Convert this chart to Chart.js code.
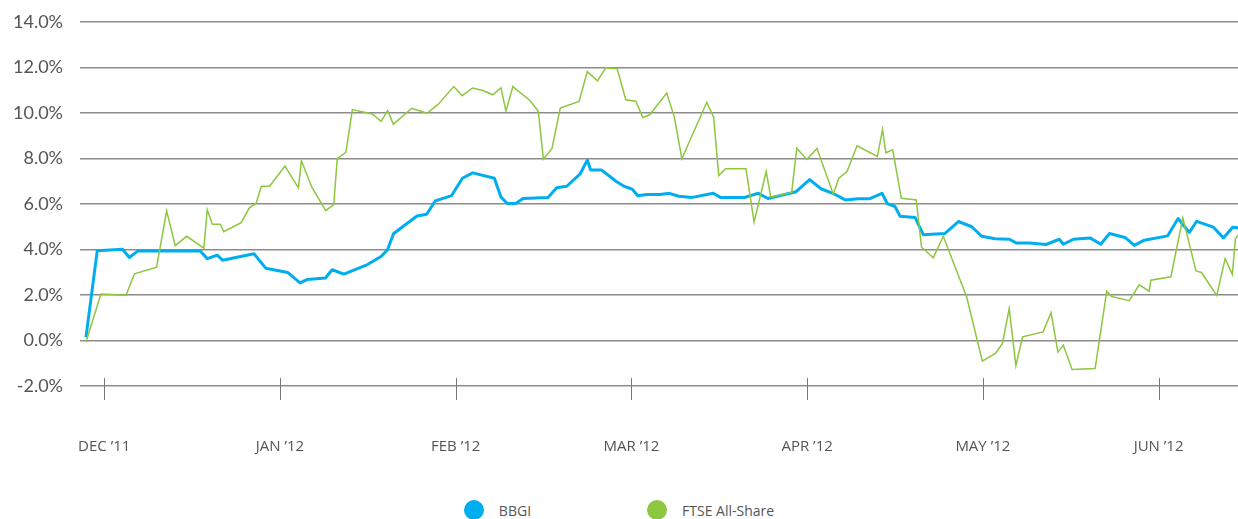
<!DOCTYPE html>
<html lang="en">
<head>
    <meta charset="UTF-8">
    <script src="https://cdn.jsdelivr.net/npm/chart.js@4.4.0/dist/chart.umd.min.js"></script>
    <title>BBGI vs FTSE All-Share</title>
    <style>
        html, body { margin: 0; padding: 0; background: #fff; overflow: hidden; }
        #wrap { width: 1238px; height: 490px; position: relative; }
        #legend { display: flex; justify-content: center; align-items: center; height: 40px;
                  font-family: "Open Sans", sans-serif; font-size: 14px; color: #555; margin-left: 0; }
        .item { display: flex; align-items: center; margin: 0 58px; }
        .dot { width: 20px; height: 20px; border-radius: 50%; margin-right: 15px; }
    </style>
</head>
<body>
<div id="wrap"><canvas id="perf"></canvas></div>
<div id="legend"></div>

<script>
// x positions are in months from 1 Dec 2011 (0 = DEC '11, 1 = JAN '12, ...)
const monthLabels = ["DEC \u201911", "JAN \u201912", "FEB \u201912", "MAR \u201912", "APR \u201912", "MAY \u201912", "JUN \u201912"];

const bbgiX = [-0.104, -0.040, 0.104, 0.143, 0.190, 0.546, 0.586, 0.643, 0.673, 0.852,
    0.919, 1.044, 1.114, 1.154, 1.259, 1.297, 1.364, 1.498, 1.575, 1.612,
    1.646, 1.713, 1.780, 1.835, 1.884, 1.977, 2.038, 2.097, 2.220, 2.258,
    2.294, 2.342, 2.383, 2.525, 2.575, 2.632, 2.707, 2.749, 2.768, 2.831,
    2.916, 2.958, 3.005, 3.036, 3.087, 3.163, 3.216, 3.269, 3.347, 3.466,
    3.506, 3.645, 3.722, 3.777, 3.937, 4.014, 4.079, 4.149, 4.217, 4.291,
    4.354, 4.426, 4.456, 4.500, 4.529, 4.614, 4.661, 4.783, 4.861, 4.937,
    4.994, 5.069, 5.151, 5.189, 5.265, 5.360, 5.435, 5.458, 5.515, 5.610,
    5.671, 5.720, 5.809, 5.862, 5.919, 6.052, 6.111, 6.175, 6.217, 6.312,
    6.369, 6.422, 6.452];
const bbgiY = [0.15, 3.94, 4.01, 3.65, 3.93, 3.93, 3.60, 3.75, 3.53, 3.81,
    3.18, 2.99, 2.53, 2.68, 2.75, 3.11, 2.92, 3.34, 3.69, 3.99,
    4.69, 5.09, 5.47, 5.55, 6.14, 6.37, 7.13, 7.37, 7.13, 6.30,
    6.02, 6.02, 6.24, 6.29, 6.71, 6.78, 7.31, 7.93, 7.49, 7.49,
    6.98, 6.78, 6.65, 6.36, 6.42, 6.42, 6.47, 6.34, 6.29, 6.47,
    6.29, 6.29, 6.47, 6.24, 6.54, 7.07, 6.67, 6.46, 6.18, 6.23,
    6.23, 6.47, 6.02, 5.89, 5.46, 5.41, 4.65, 4.70, 5.23, 5.00,
    4.58, 4.47, 4.45, 4.29, 4.29, 4.22, 4.45, 4.23, 4.45, 4.51,
    4.23, 4.70, 4.53, 4.18, 4.41, 4.60, 5.36, 4.75, 5.24, 4.98,
    4.51, 4.98, 4.95];

const ftseX = [-0.104, -0.019, 0.124, 0.172, 0.298, 0.355, 0.404, 0.469, 0.567, 0.586,
    0.615, 0.661, 0.680, 0.779, 0.825, 0.865, 0.894, 0.941, 1.028, 1.105,
    1.122, 1.180, 1.260, 1.306, 1.326, 1.375, 1.412, 1.526, 1.575, 1.613,
    1.645, 1.750, 1.797, 1.837, 1.901, 1.989, 2.037, 2.096, 2.155, 2.211,
    2.258, 2.286, 2.325, 2.421, 2.470, 2.499, 2.548, 2.595, 2.702, 2.749,
    2.807, 2.854, 2.919, 2.968, 3.025, 3.065, 3.104, 3.201, 3.244, 3.287,
    3.429, 3.468, 3.497, 3.536, 3.652, 3.698, 3.767, 3.793, 3.912, 3.941,
    3.998, 4.056, 4.149, 4.180, 4.227, 4.284, 4.400, 4.429, 4.448, 4.487,
    4.536, 4.621, 4.651, 4.718, 4.775, 4.908, 4.997, 5.071, 5.111, 5.150,
    5.188, 5.226, 5.343, 5.388, 5.427, 5.458, 5.508, 5.639, 5.705, 5.731,
    5.833, 5.890, 5.947, 5.956, 6.070, 6.138, 6.213, 6.244, 6.331, 6.379,
    6.420, 6.437, 6.453];
const ftseY = [-0.07, 2.04, 1.99, 2.93, 3.22, 5.70, 4.17, 4.58, 4.06, 5.75,
    5.11, 5.11, 4.78, 5.18, 5.82, 6.04, 6.78, 6.78, 7.67, 6.71,
    7.91, 6.76, 5.71, 5.97, 7.99, 8.27, 10.15, 9.96, 9.63, 10.10,
    9.51, 10.21, 10.09, 9.99, 10.39, 11.16, 10.76, 11.10, 10.99, 10.80,
    11.10, 10.08, 11.16, 10.56, 10.09, 7.97, 8.44, 10.22, 10.51, 11.82,
    11.41, 11.99, 11.95, 10.58, 10.52, 9.80, 9.92, 10.88, 9.83, 7.99,
    10.47, 9.82, 7.25, 7.55, 7.55, 5.20, 7.43, 6.30, 6.51, 8.45,
    7.96, 8.44, 6.43, 7.13, 7.43, 8.56, 8.09, 9.27, 8.25, 8.38,
    6.25, 6.18, 4.10, 3.64, 4.58, 1.91, -0.91, -0.57, -0.14, 1.40,
    -1.10, 0.16, 0.38, 1.22, -0.51, -0.21, -1.27, -1.23, 2.17, 1.94,
    1.75, 2.45, 2.17, 2.65, 2.80, 5.39, 3.06, 2.99, 1.98, 3.60,
    2.90, 4.46, 4.64];

const seriesNames = ["BBGI", "FTSE All-Share"];
const seriesColors = ["#00aeef", "#8dc63f"];

function points(xs, ys) {
    return xs.map((x, i) => ({ x: x, y: ys[i] }));
}

// month tick marks crossing the bottom gridline
const monthMarks = {
    id: 'monthMarks',
    afterDraw(chart) {
        const ctx = chart.ctx;
        const xs = chart.scales.x;
        const bottom = chart.chartArea.bottom;
        ctx.save();
        ctx.strokeStyle = '#777';
        ctx.lineWidth = 1;
        xs.ticks.forEach(t => {
            const px = Math.round(xs.getPixelForValue(t.value)) + 0.5;
            ctx.beginPath();
            ctx.moveTo(px, bottom - 8);
            ctx.lineTo(px, bottom + 14);
            ctx.stroke();
        });
        ctx.restore();
    }
};

const canvas = document.getElementById('perf');
canvas.width = 1238;
canvas.height = 490;

new Chart(canvas.getContext('2d'), {
    type: 'line',
    data: {
        datasets: [
            {
                label: seriesNames[0],
                data: points(bbgiX, bbgiY),
                borderColor: seriesColors[0],
                backgroundColor: seriesColors[0],
                borderWidth: 3,
                pointRadius: 0,
                tension: 0,
                borderJoinStyle: 'round',
                order: 1
            },
            {
                label: seriesNames[1],
                data: points(ftseX, ftseY),
                borderColor: seriesColors[1],
                backgroundColor: seriesColors[1],
                borderWidth: 1.5,
                pointRadius: 0,
                tension: 0,
                order: 0
            }
        ]
    },
    options: {
        responsive: false,
        animation: false,
        layout: { padding: { top: 22, right: 0, left: 0, bottom: 0 } },
        plugins: {
            legend: { display: false },
            tooltip: { enabled: false }
        },
        scales: {
            x: {
                type: 'linear',
                min: -0.138,
                max: 6.452,
                border: { display: false },
                grid: { display: false, drawTicks: false },
                afterBuildTicks(scale) {
                    scale.ticks = monthLabels.map((l, i) => ({ value: i }));
                },
                afterFit(scale) { scale.height = 104; },
                ticks: {
                    autoSkip: false,
                    maxRotation: 0,
                    padding: 52,
                    color: '#555',
                    font: { family: 'Open Sans', size: 15 },
                    callback: (v) => monthLabels[v]
                }
            },
            y: {
                min: -2,
                max: 14,
                border: { display: false },
                grid: { color: '#8c8c8c', lineWidth: 1.5, drawTicks: true, tickLength: 17, tickColor: 'rgba(0,0,0,0)' },
                afterFit(scale) { scale.width = 80; },
                ticks: {
                    stepSize: 2,
                    padding: 0,
                    color: '#555',
                    font: { family: 'Lato', size: 18 },
                    callback: (v) => v.toFixed(1) + '%'
                }
            }
        }
    },
    plugins: [monthMarks]
});

const legend = document.getElementById('legend');
seriesNames.forEach((name, i) => {
    const item = document.createElement('div');
    item.className = 'item';
    item.innerHTML = '<span class="dot" style="background:' + seriesColors[i] + '"></span><span>' + name + '</span>';
    legend.appendChild(item);
});
</script>
</body>
</html>
